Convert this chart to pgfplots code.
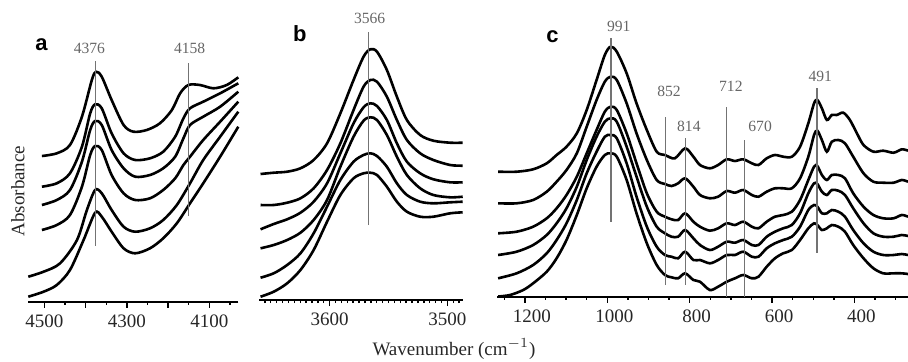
\documentclass[border=0pt]{standalone}
\usepackage{pgfplots}
\pgfplotsset{compat=1.18}
\usepackage{fontspec}
\setmainfont{Liberation Serif}
\newfontfamily\labelsans{Liberation Sans}

\pgfplotsset{
  spec/.style={
    scale only axis, clip=false,
    x dir=reverse,
    axis x line*=bottom, axis y line=none,
    ymin=0, ymax=280, height=140pt,
    anchor=south west,
    tick align=outside, major tick length=3pt, minor tick length=1.6pt,
    every tick/.style={black, line width=0.7pt},
    axis line style={black, line width=1pt},
    xticklabel style={font=\fontsize{9.5}{11}\selectfont, text=black!85},
    /pgf/number format/1000 sep={},
    /pgf/number format/assume math mode=true,
  },
}
\tikzset{
  crv/.style={black, line width=1.3pt, smooth, tension=0.5, mark=none},
  vl/.style={black!55, line width=0.6pt, sharp plot, mark=none},
  plab/.style={font=\fontsize{7.8}{9}\selectfont, text=black!60},
  plet/.style={font=\labelsans\bfseries\fontsize{11}{13}\selectfont},
}

\begin{document}
\begin{tikzpicture}
\useasboundingbox (0,0) rectangle (454pt,180.5pt);

% ---------------- panel a ----------------
\begin{axis}[spec, at={(14.15pt,29.65pt)}, width=105pt,
  xmin=4030, xmax=4539,
  xtick={4100,4200,4300,4400,4500}, xticklabels={4100,,4300,,4500},
  minor xtick={4050,4150,4250,4350,4450}]
\addplot[crv] coordinates {(4506,145.7) (4470,148.4) (4438,156.7) (4409,185) (4385,221.7) (4375,230) (4361,225) (4337,201.7) (4308,176.7) (4284,170) (4252,171.7) (4220,178.4) (4191,191.7) (4171,208.4) (4151,216.7) (4123,216.7) (4090,213.4) (4058,216.7) (4030,224.4)};
\addplot[crv] coordinates {(4506,115) (4470,118.4) (4438,128.4) (4409,155) (4389,188.4) (4377,197.4) (4361,193.4) (4337,168.4) (4308,148.4) (4280,141.7) (4244,143.4) (4212,150) (4183,165) (4163,183.4) (4147,193.4) (4115,200) (4074,208.4) (4030,218.4)};
\addplot[crv] coordinates {(4506,96.7) (4470,101.7) (4438,111.7) (4409,140) (4389,171.7) (4377,180.7) (4361,176.7) (4337,151.7) (4308,133.4) (4280,125) (4244,126.7) (4212,133.4) (4183,145) (4163,163.4) (4147,176.7) (4115,185) (4074,195) (4030,210)};
\addplot[crv] coordinates {(4506,71.7) (4470,76.7) (4438,86.7) (4409,115) (4389,146.7) (4377,155.7) (4361,151.7) (4337,126.7) (4308,108.4) (4280,101.7) (4244,103.4) (4212,111.7) (4183,123.4) (4163,136.7) (4147,145) (4115,161.7) (4074,180) (4030,200)};
\addplot[crv] coordinates {(4539,25) (4502,30) (4462,38.4) (4421,61.7) (4397,91.7) (4377,111.7) (4361,108.4) (4337,91.7) (4308,75) (4280,70) (4244,73.4) (4212,81.7) (4179,96.7) (4147,118.4) (4115,141.7) (4074,165) (4030,190)};
\addplot[crv] coordinates {(4539,5) (4502,10) (4470,16.7) (4438,31.7) (4405,61.7) (4377,89) (4361,85) (4337,70) (4308,53.4) (4280,48.4) (4244,53.4) (4212,63.4) (4179,78.4) (4147,98.4) (4115,118.4) (4074,145) (4030,175)};
\addplot[vl] coordinates {(4377,56) (4377,240.7)};
\addplot[vl] coordinates {(4150,85.7) (4150,238.7)};
\node[plab] at (axis cs:4391,253.7) {4376};
\node[plab] at (axis cs:4148,253.7) {4158};
\node[plet] at (axis cs:4507,256.7) {a};
\end{axis}

% ---------------- panel b ----------------
\begin{axis}[spec, at={(129.5pt,30.5pt)}, width=101.85pt,
  xmin=3487, xmax=3660,
  xtick={3500,3600}, minor xtick={3490,3495,...,3655}]
\addplot[crv] coordinates {(3658.7,126) (3647.5,127.3) (3636.1,128.3) (3624.8,131.7) (3613.6,140) (3602.2,156.7) (3590.9,186.7) (3579.7,220) (3571.2,243.3) (3565.5,250.7) (3559.8,248.3) (3551.4,230) (3542.9,203.3) (3534.4,180) (3523.1,165) (3511.9,159.3) (3497.7,157.3) (3487,157.3)};
\addplot[crv] coordinates {(3658.7,95) (3647.5,95) (3636.1,97.3) (3624.8,101.7) (3613.6,111.7) (3602.2,130) (3590.9,156.7) (3579.7,190) (3571.2,213.3) (3565.5,220) (3559.8,218.3) (3551.4,203.3) (3542.9,180) (3534.4,160) (3523.1,146.7) (3511.9,140) (3497.7,135) (3487,134.3)};
\addplot[crv] coordinates {(3658.7,70.7) (3647.5,76) (3636.1,80.7) (3624.8,87.3) (3613.6,98.3) (3602.2,116.7) (3590.9,146.7) (3579.7,176.7) (3571.2,192.7) (3565.5,196.7) (3559.8,194) (3551.4,180) (3542.9,156.7) (3534.4,138.3) (3523.1,126.7) (3511.9,120.7) (3497.7,117.7) (3487,117.7)};
\addplot[crv] coordinates {(3658.7,51.7) (3647.5,55) (3636.1,60) (3624.8,67.3) (3613.6,80) (3602.2,100) (3590.9,133.3) (3579.7,163.3) (3571.2,179.3) (3565.5,182.7) (3559.8,180) (3551.4,165) (3542.9,143.3) (3534.4,125) (3523.1,111.7) (3511.9,105) (3497.7,102.7) (3487,103.3)};
\addplot[crv] coordinates {(3658.7,22.3) (3647.5,26.7) (3636.1,35) (3624.8,46.7) (3613.6,66.7) (3602.2,93.3) (3590.9,120) (3579.7,138.3) (3571.2,145) (3565.5,146.7) (3559.8,144) (3551.4,133.3) (3542.9,116.7) (3534.4,105) (3523.1,98.3) (3511.9,96.7) (3497.7,97.7) (3487,98.3)};
\addplot[crv] coordinates {(3658.7,3.3) (3647.5,8.3) (3636.1,16.7) (3624.8,30) (3613.6,50) (3602.2,78.3) (3590.9,105) (3579.7,121.7) (3571.2,126.7) (3565.5,127.3) (3559.8,125) (3551.4,113.3) (3542.9,98.3) (3534.4,88.3) (3523.1,83.3) (3511.9,83.3) (3497.7,86.7) (3487,87.7)};
\addplot[vl] coordinates {(3567,75) (3567,268)};
\node[plab] at (axis cs:3566,281.7) {3566};
\node[plet] at (axis cs:3625.4,266.7) {b};
\end{axis}

% ---------------- panel c ----------------
\begin{axis}[spec, at={(248.65pt,32.25pt)}, width=205.35pt,
  xmin=270, xmax=1267,
  xtick={400,600,800,1000,1200},
  minor xtick={300,350,450,500,550,650,700,750,850,900,950,1050,1100,1150,1250},
  xticklabel style={xshift=3.5pt}]
\addplot[crv] coordinates {(1265,124.8) (1220,124.8) (1180,127.2) (1147,133.2) (1123,141.5) (1099,149.8) (1074,163.2) (1050,186.5) (1026,216.5) (1006,241.5) (992,249.8) (977,244.8) (953,223.2) (929,193.2) (904,166.5) (880,144.8) (860,141.5) (836,138.2) (811,148.2) (791,139.8) (775,131.5) (751,128.2) (731,131.5) (710,137.2) (690,135.5) (670,137.2) (649,133.2) (633,131.5) (613,138.2) (593,141.5) (573,139.8) (552,139.8) (532,149.8) (512,173.2) (498,193.2) (490,196.5) (479,188.2) (467,176.5) (455,181.5) (443,181.5) (427,183.8) (411,176.5) (394,163.2) (378,151.5) (354,144.8) (330,145.8) (305,143.8) (285,147.2) (270,145.8)};
\addplot[crv] coordinates {(1265,93.2) (1220,93.2) (1180,96.5) (1147,104.8) (1123,114.8) (1099,126.5) (1074,143.2) (1050,169.8) (1026,196.5) (1006,214.8) (992,219.8) (977,216.5) (953,193.2) (929,163.2) (904,136.5) (880,116.5) (860,112.5) (844,110.5) (828,113.2) (811,118.2) (791,109.8) (775,101.5) (751,98.2) (731,99.8) (710,105.5) (690,103.8) (670,106.5) (649,101.5) (633,99.8) (613,104.8) (593,108.2) (573,108.2) (552,108.2) (532,118.2) (512,139.8) (498,161.5) (490,165.8) (479,156.5) (467,144.8) (455,154.8) (439,156.5) (423,153.2) (403,139.8) (378,123.2) (354,114.8) (330,113.8) (305,113.8) (285,116.5) (270,114.8)};
\addplot[crv] coordinates {(1265,63.2) (1220,64.8) (1180,69.8) (1147,78.2) (1123,88.2) (1099,101.5) (1074,119.8) (1050,143.2) (1026,166.5) (1006,184.8) (992,189.8) (977,186.5) (953,163.2) (929,133.2) (904,103.2) (880,84.8) (860,79.8) (844,77.2) (828,76.5) (811,83.2) (791,74.8) (775,69.8) (751,65.8) (731,68.2) (710,73.2) (690,71.5) (670,74.8) (649,69.8) (633,68.2) (613,74.8) (593,79.8) (573,81.5) (552,84.8) (532,96.5) (512,116.5) (498,129.8) (490,130.5) (479,121.5) (467,116.5) (455,121.5) (439,121.5) (423,118.2) (403,103.2) (378,89.8) (354,81.5) (330,78.2) (305,78.2) (285,81.5) (270,79.8)};
\addplot[crv] coordinates {(1265,41.5) (1220,44.8) (1180,51.5) (1147,61.5) (1123,73.2) (1099,88.2) (1074,109.8) (1050,136.5) (1026,159.8) (1006,174.8) (992,178.2) (977,174.8) (953,149.8) (929,119.8) (904,89.8) (880,69.8) (860,63.2) (844,59.8) (828,59.8) (811,66.5) (791,58.2) (775,51.5) (751,46.5) (731,49.8) (710,54.8) (690,53.8) (670,56.5) (649,51.5) (633,51.5) (613,59.8) (593,64.8) (573,68.2) (552,71.5) (532,83.2) (512,103.2) (498,113.2) (490,112.5) (479,104.8) (467,101.5) (455,106.5) (439,105.8) (423,101.5) (403,88.2) (378,73.2) (354,63.2) (330,59.8) (305,59.8) (285,61.5) (270,60.5)};
\addplot[crv] coordinates {(1265,18.2) (1220,23.2) (1180,31.5) (1147,43.2) (1123,56.5) (1099,73.2) (1074,96.5) (1050,123.2) (1026,144.8) (1006,159.8) (992,161.5) (977,158.2) (953,133.2) (929,99.8) (904,69.8) (880,49.8) (860,41.5) (844,39.8) (828,38.2) (811,44.8) (791,36.5) (775,36.5) (751,33.2) (731,36.5) (710,41.5) (690,41.5) (670,44.8) (649,39.8) (633,39.8) (613,48.2) (593,53.2) (573,56.5) (552,59.8) (532,69.8) (512,86.5) (498,91.5) (490,89.8) (479,83.2) (467,83.2) (455,86.5) (439,84.8) (423,79.8) (403,66.5) (378,53.2) (354,44.8) (330,41.5) (305,41.5) (285,42.5) (270,41.5)};
\addplot[crv] coordinates {(1265,0) (1236,1.5) (1204,6.5) (1180,13.2) (1147,24.8) (1123,38.2) (1099,56.5) (1074,81.5) (1050,108.2) (1026,129.8) (1006,141.5) (992,143.2) (977,139.8) (953,116.5) (929,83.2) (904,53.2) (880,31.5) (860,21.5) (844,19.2) (828,18.2) (811,23.2) (791,16.5) (775,14.8) (751,6.5) (731,9.8) (710,14.8) (690,18.2) (670,21.5) (649,18.2) (633,19.8) (613,29.8) (593,38.2) (573,43.2) (552,46.5) (532,56.5) (512,68.2) (498,73.2) (490,71.5) (479,66.5) (467,68.2) (455,71.5) (439,69.8) (423,64.8) (403,51.5) (378,38.2) (354,28.2) (330,23.2) (305,23.2) (285,23.2) (270,22.5)};
\addplot[vl] coordinates {(991,74.8) (991,258.2)};
\addplot[vl] coordinates {(858,11.5) (858,179.8)};
\addplot[vl] coordinates {(810,12) (810,158.2)};
\addplot[vl] coordinates {(710,0) (710,189.8)};
\addplot[vl] coordinates {(667,0) (667,156.5)};
\addplot[vl] coordinates {(491,43.8) (491,208.2)};
\node[plab] at (axis cs:972,269.8) {991};
\node[plab] at (axis cs:850,204.8) {852};
\node[plab] at (axis cs:802,169.8) {814};
\node[plab] at (axis cs:700,210.5) {712};
\node[plab] at (axis cs:629,170.5) {670};
\node[plab] at (axis cs:483,219.8) {491};
\node[plet] at (axis cs:1133,259.8) {c};
\end{axis}

\node[rotate=90, font=\fontsize{9.5}{11}\selectfont, text=black!85] at (9pt,85pt) {Absorbance};
\node[font=\fontsize{9.5}{11}\selectfont, text=black!85] at (227pt,6pt) {Wavenumber (cm$^{-1}$)};
\end{tikzpicture}
\end{document}
